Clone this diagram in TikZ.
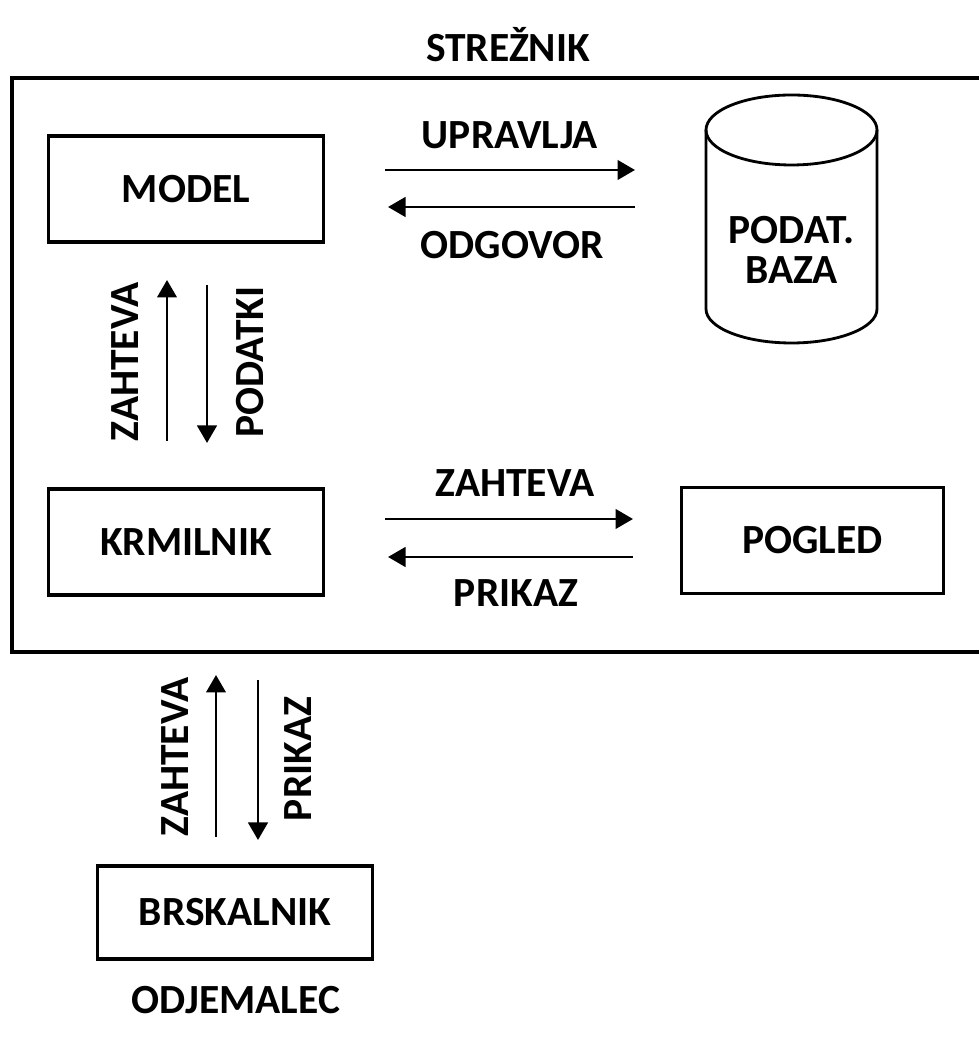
\documentclass[tikz,border=0pt]{standalone}
\usepackage{fontspec}
\setmainfont{Carlito}
\usetikzlibrary{arrows.meta}

\begin{document}
\begin{tikzpicture}[font=\fontsize{23.6}{22.8}\selectfont\bfseries,>={Triangle[length=3.5mm,width=3.9mm]},
  blok/.style={draw,line width=1.9pt,minimum width=5.5cm,minimum height=2.12cm},
  puscica/.style={->,line width=1.6pt}]
\useasboundingbox (0,0) rectangle (19.58,20.78);
% okvir streznika
\draw[line width=1.8pt] (19.58,19.22) -- (0.24,19.22) -- (0.24,7.74) -- (19.58,7.74);
\node (streznik) at (10.16,19.88){STREŽNIK};\node (odjemalec) at (4.72,0.78){ODJEMALEC};
\node[blok] (model) at (3.72,17.0){MODEL};\node[blok] (krmilnik) at (3.72,9.94){KRMILNIK};
\node[blok,minimum width=5.24cm] (pogled) at (16.25,9.97){POGLED};\node[blok,minimum height=1.86cm] (brskalnik) at (4.70,2.53){BRSKALNIK};
% podatkovna baza
\draw[line width=1.6pt] (14.12,18.18) -- (14.12,14.60) arc[start angle=180,end angle=360,x radius=1.71,y radius=0.68] -- (17.54,18.18);
\draw[line width=1.6pt] (15.83,18.18) ellipse[x radius=1.71,y radius=0.7];
\node[align=center] (baza) at (15.83,15.78){PODAT.\\BAZA};
% povezave
\coordinate (m1) at (7.70,17.38);\coordinate (b1) at (12.70,17.38);\coordinate (b2) at (12.70,16.64);\coordinate (m2) at (7.76,16.64);
\coordinate (k1) at (7.70,10.40);\coordinate (p1) at (12.66,10.40);\coordinate (p2) at (12.66,9.64);\coordinate (k2) at (7.76,9.64);
\coordinate (k3) at (3.34,11.96);\coordinate (m3) at (3.34,15.18);\coordinate (m4) at (4.14,15.08);\coordinate (k4) at (4.14,11.92);
\coordinate (r1) at (4.32,4.04);\coordinate (k5) at (4.32,7.28);\coordinate (k6) at (5.16,7.18);\coordinate (r2) at (5.16,3.98);
\draw[puscica] (m1)--(b1);\draw[puscica] (b2)--(m2);\draw[puscica] (k1)--(p1);\draw[puscica] (p2)--(k2);
\draw[puscica] (k3)--(m3);\draw[puscica] (m4)--(k4);\draw[puscica] (r1)--(k5);\draw[puscica] (k6)--(r2);
\node (upravlja) at (10.20,18.08){UPRAVLJA};\node (odgovor) at (10.24,15.88){ODGOVOR};
\node (zahteva1) at (10.30,11.12){ZAHTEVA};\node (prikaz1) at (10.32,8.92){PRIKAZ};
\node[rotate=90] (zahteva2) at (2.50,13.54){ZAHTEVA};\node[rotate=90] (podatki) at (5.00,13.54){PODATKI};
\node[rotate=90] (zahteva3) at (3.50,5.64){ZAHTEVA};\node[rotate=90] (prikaz2) at (5.96,5.60){PRIKAZ};
\end{tikzpicture}
\end{document}
